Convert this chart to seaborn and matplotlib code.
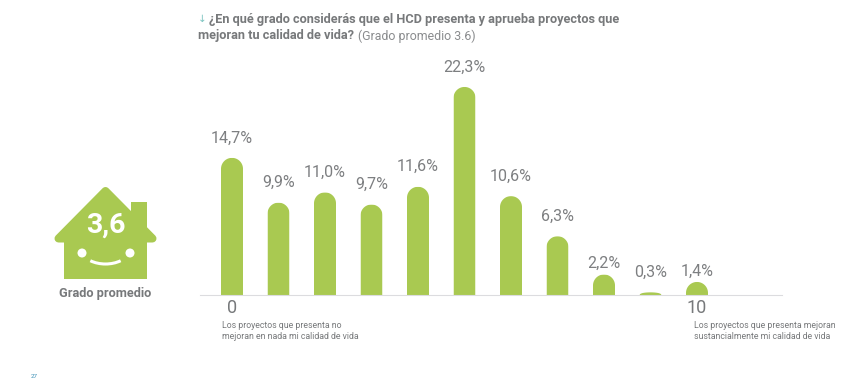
import matplotlib

matplotlib.use("Agg")
import matplotlib.pyplot as plt
import numpy as np
import pandas as pd
import seaborn as sns
from matplotlib.patches import Arc, Circle, Polygon, Rectangle
from matplotlib.path import Path

grades = ["0", "1", "2", "3", "4", "5", "6", "7", "8", "9", "10"]
shares = [14.7, 9.9, 11.0, 9.7, 11.6, 22.3, 10.6, 6.3, 2.2, 0.3, 1.4]
share_labels = ["14,7%", "9,9%", "11,0%", "9,7%", "11,6%", "22,3%", "10,6%", "6,3%", "2,2%", "0,3%", "1,4%"]
tick_labels = ["0", "", "", "", "", "", "", "", "", "", "10"]
note_low = "Los proyectos que presenta no\nmejoran en nada mi calidad de vida"
note_high = "Los proyectos que presenta mejoran\nsustancialmente mi calidad de vida"

GREEN = "#a9c951"
GREY = "#77797b"
W, H = 862, 378

sns.set_theme(style="white")
plt.rcParams["font.family"] = ["Roboto", "DejaVu Sans"]

df = pd.DataFrame({"grade": grades, "share": shares})

fig = plt.figure(figsize=(W / 100, H / 100), dpi=100)
ax = fig.add_axes([200 / W, 1 - 295 / H, 582 / W, 255 / H])
sns.barplot(data=df, x="grade", y="share", color=GREEN, saturation=1, width=22 / 46.5, linewidth=0, ax=ax)
ax.set_xlim(-32 / 46.5, 550 / 46.5)
ax.set_ylim(0, 255 / 9.33)
ax.set_xlabel("")
ax.set_ylabel("")
ax.set_yticks([])
ax.set_xticks(range(len(grades)))
ax.set_xticklabels(tick_labels, fontsize=13, color=GREY)
ax.tick_params(axis="x", length=0, pad=3)
ax.patch.set_alpha(0)
sns.despine(ax=ax, left=True)
ax.spines["bottom"].set_color("#dcdcdf")
ax.spines["bottom"].set_linewidth(0.8)

# round the top of each bar with a clip shape, half circle in pixels
t = np.linspace(0, np.pi, 40)
for bar in ax.containers[0]:
    bar.set_snap(False)
    rx = bar.get_width() / 2
    top = bar.get_height()
    ry = min(11 / 9.33, top)
    cx = bar.get_x() + rx
    xs = np.r_[cx + rx, cx + rx * np.cos(t), cx - rx]
    ys = np.r_[-1, top - ry + ry * np.sin(t), -1]
    bar.set_clip_path(Path(np.c_[xs, ys]), transform=ax.transData)

bar_texts = ax.bar_label(ax.containers[0], labels=share_labels, padding=9, fontsize=11.5, color="#7d7f81")
# these two sit closer to their bars in the original
bar_texts[8].xyann = (0, 2.5)
bar_texts[10].xyann = (0, 2.5)

# everything outside the plot goes on a pixel overlay
ov = fig.add_axes([0, 0, 1, 1])
ov.set_xlim(0, W)
ov.set_ylim(H, 0)
ov.axis("off")
ov.patch.set_alpha(0)

ov.text(198, 19, "↓", fontsize=7.5, color="#7cc4c0", va="center", family=["DejaVu Sans"])
ov.text(209, 19, "¿En qué grado considerás que el HCD presenta y aprueba proyectos que", fontsize=9.2, fontweight="bold", color=GREY, va="center")
ov.text(198, 36, "mejoran tu calidad de vida?", fontsize=9.2, fontweight="bold", color=GREY, va="center")
ov.text(358, 36, "(Grado promedio 3.6)", fontsize=8.9, color="#8a8c8e", va="center")

ov.text(222, 331, note_low, fontsize=6.3, color=GREY, va="center", linespacing=1.3)
ov.text(694, 331, note_high, fontsize=6.35, color=GREY, va="center", linespacing=1.3)

# house icon
ov.add_patch(Polygon([(105.5, 191), (58.5, 238.5), (152.5, 238.5)], closed=True, fc=GREEN, ec=GREEN, lw=5.76, joinstyle="round"))
ov.add_patch(Rectangle((64, 238), 83, 41, fc=GREEN, ec="none"))
ov.add_patch(Rectangle((131, 202), 16, 36, fc=GREEN, ec="none"))
ov.add_patch(Circle((82, 253), 4.5, fc="white", ec="none"))
ov.add_patch(Circle((130, 253), 4.5, fc="white", ec="none"))
ov.add_patch(Arc((105.5, 248), 50, 32, theta1=40, theta2=140, color="white", lw=2.2))
ov.text(105.5, 225, "3,6", fontsize=20.5, fontweight="bold", color="white", ha="center", va="center")
ov.text(105.5, 293, "Grado promedio", fontsize=9.2, fontweight="bold", color=GREY, ha="center", va="center")
ov.text(34, 376, "27", fontsize=4.5, color="#3a8fb5", ha="center", va="center")

fig.savefig("out.png", dpi=100)
plt.close(fig)
